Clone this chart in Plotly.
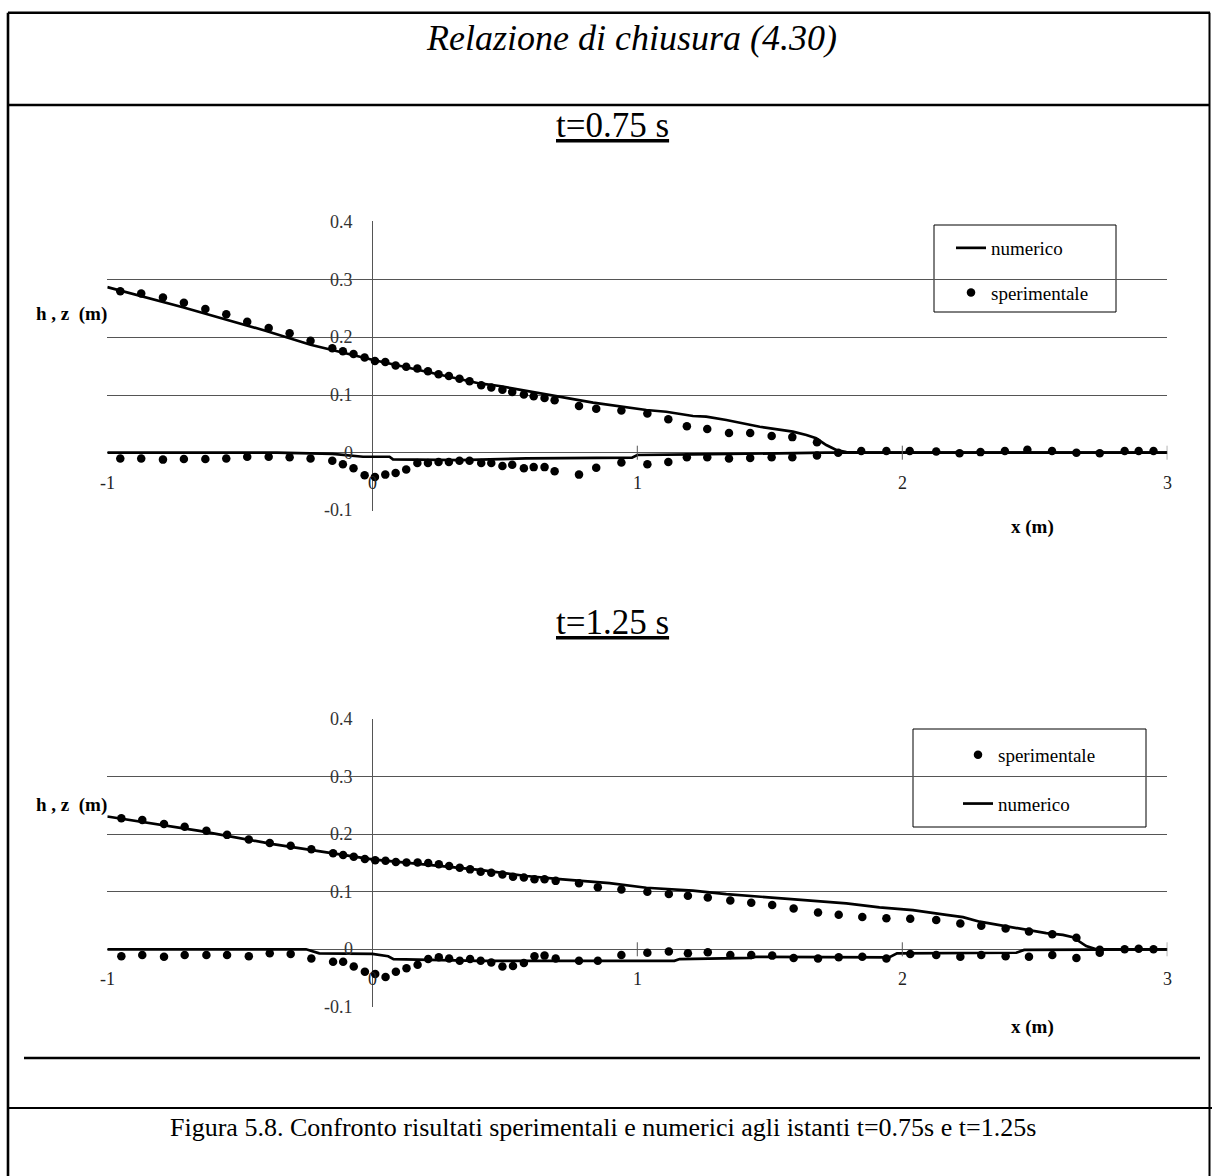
import plotly.graph_objects as go

# ---------------------------------------------------------------------------
# Data: free-surface h and bed z profiles (m) along x (m)
# ---------------------------------------------------------------------------

# t = 0.75 s, experimental water surface
x_exp_h_075 = [-0.951, -0.872, -0.790, -0.711, -0.630, -0.551, -0.472, -0.391, -0.312, -0.233,
               -0.151, -0.111, -0.071, -0.029, 0.010, 0.049, 0.088, 0.128, 0.170, 0.210,
               0.250, 0.289, 0.329, 0.367, 0.411, 0.449, 0.491, 0.528, 0.572, 0.609,
               0.650, 0.688, 0.780, 0.845, 0.940, 1.038, 1.117, 1.187, 1.264, 1.346,
               1.426, 1.507, 1.585, 1.678, 1.758, 1.845, 1.940, 2.028, 2.128, 2.216,
               2.295, 2.387, 2.472, 2.565, 2.657, 2.745, 2.839, 2.892, 2.948]
h_exp_075 = [0.280, 0.276, 0.269, 0.260, 0.249, 0.240, 0.227, 0.216, 0.207, 0.194,
             0.181, 0.176, 0.171, 0.165, 0.159, 0.157, 0.151, 0.149, 0.146, 0.141,
             0.136, 0.133, 0.128, 0.124, 0.117, 0.113, 0.109, 0.105, 0.101, 0.098,
             0.095, 0.091, 0.081, 0.076, 0.073, 0.068, 0.058, 0.046, 0.041, 0.034,
             0.034, 0.029, 0.027, 0.018, 0.000, 0.003, 0.003, 0.003, 0.002, -0.001,
             0.001, 0.003, 0.005, 0.003, 0.000, -0.001, 0.003, 0.003, 0.003]

# t = 0.75 s, experimental bed
x_exp_z_075 = [-0.951, -0.872, -0.790, -0.711, -0.630, -0.551, -0.472, -0.391, -0.312, -0.233,
               -0.151, -0.111, -0.071, -0.029, 0.010, 0.049, 0.088, 0.128, 0.170, 0.210,
               0.250, 0.289, 0.329, 0.367, 0.411, 0.449, 0.491, 0.528, 0.572, 0.609,
               0.650, 0.688, 0.780, 0.845, 0.940, 1.038, 1.117, 1.187, 1.264, 1.346,
               1.426, 1.507, 1.585, 1.678]
z_exp_075 = [-0.010, -0.010, -0.012, -0.011, -0.011, -0.010, -0.007, -0.007, -0.008, -0.010,
             -0.014, -0.020, -0.027, -0.039, -0.042, -0.038, -0.035, -0.029, -0.018, -0.018,
             -0.016, -0.016, -0.014, -0.014, -0.018, -0.018, -0.023, -0.021, -0.027, -0.025,
             -0.025, -0.032, -0.038, -0.026, -0.017, -0.020, -0.016, -0.008, -0.008, -0.010,
             -0.009, -0.008, -0.008, -0.005]

# t = 0.75 s, numerical water surface
x_num_h_075 = [-1.000, -0.715, -0.400, -0.233, 0.000, 0.405, 0.480, 0.669, 0.833, 1.034,
               1.109, 1.210, 1.260, 1.336, 1.462, 1.587, 1.638, 1.675, 1.713, 1.751,
               1.789, 1.850, 3.000]
h_num_075 = [0.287, 0.252, 0.211, 0.187, 0.161, 0.120, 0.1156, 0.100, 0.0867, 0.074,
             0.071, 0.0636, 0.0624, 0.0567, 0.045, 0.0364, 0.0307, 0.025, 0.0133, 0.0047,
             0.001, 0.000, 0.000]

# t = 0.75 s, numerical bed
x_num_z_075 = [-1.000, -0.360, -0.150, -0.035, 0.065, 0.078, 0.330, 0.580, 0.980, 1.000,
               1.210, 1.460, 1.710, 3.000]
z_num_075 = [0.000, 0.000, -0.002, -0.007, -0.007, -0.0115, -0.013, -0.010, -0.0087, -0.004,
             -0.003, -0.0017, 0.000, 0.000]

# t = 1.25 s, experimental water surface
x_exp_h_125 = [-0.947, -0.868, -0.786, -0.708, -0.626, -0.548, -0.466, -0.387, -0.308, -0.230,
               -0.148, -0.110, -0.070, -0.028, 0.011, 0.050, 0.089, 0.129, 0.171, 0.211,
               0.251, 0.290, 0.330, 0.369, 0.409, 0.449, 0.491, 0.531, 0.572, 0.612,
               0.650, 0.692, 0.780, 0.851, 0.940, 1.038, 1.119, 1.191, 1.266, 1.351,
               1.430, 1.509, 1.590, 1.682, 1.760, 1.849, 1.940, 2.030, 2.128, 2.219,
               2.298, 2.390, 2.478, 2.566, 2.657, 2.745, 2.839, 2.892, 2.948]
h_exp_125 = [0.228, 0.225, 0.218, 0.213, 0.206, 0.199, 0.191, 0.185, 0.180, 0.174,
             0.167, 0.164, 0.161, 0.157, 0.155, 0.154, 0.152, 0.151, 0.151, 0.150,
             0.148, 0.145, 0.142, 0.139, 0.135, 0.133, 0.130, 0.126, 0.125, 0.122,
             0.122, 0.119, 0.115, 0.108, 0.104, 0.100, 0.096, 0.093, 0.090, 0.085,
             0.081, 0.077, 0.071, 0.064, 0.060, 0.056, 0.054, 0.053, 0.051, 0.045,
             0.041, 0.036, 0.031, 0.026, 0.020, -0.001, 0.000, 0.001, 0.000]

# t = 1.25 s, experimental bed
x_exp_z_125 = [-0.947, -0.868, -0.786, -0.708, -0.626, -0.548, -0.466, -0.387, -0.308, -0.230,
               -0.148, -0.110, -0.070, -0.028, 0.011, 0.050, 0.089, 0.129, 0.171, 0.211,
               0.251, 0.290, 0.330, 0.369, 0.409, 0.449, 0.491, 0.531, 0.572, 0.612,
               0.650, 0.692, 0.780, 0.851, 0.940, 1.038, 1.119, 1.191, 1.266, 1.351,
               1.430, 1.509, 1.590, 1.682, 1.760, 1.849, 1.940, 2.030, 2.128, 2.219,
               2.298, 2.390, 2.478, 2.566, 2.657, 2.745]
z_exp_125 = [-0.012, -0.010, -0.013, -0.010, -0.010, -0.010, -0.012, -0.007, -0.008, -0.016,
             -0.0215, -0.0215, -0.030, -0.039, -0.043, -0.048, -0.039, -0.033, -0.027, -0.017,
             -0.014, -0.016, -0.020, -0.017, -0.020, -0.023, -0.030, -0.029, -0.024, -0.012,
             -0.011, -0.016, -0.020, -0.020, -0.010, -0.006, -0.004, -0.007, -0.005, -0.010,
             -0.010, -0.011, -0.015, -0.016, -0.014, -0.013, -0.016, -0.008, -0.010, -0.013,
             -0.010, -0.012, -0.013, -0.010, -0.015, -0.006]

# t = 1.25 s, numerical water surface
x_num_h_125 = [-1.000, -0.780, -0.652, -0.375, -0.161, 0.000, 0.405, 0.581, 0.707, 0.895,
               1.034, 1.210, 1.336, 1.537, 1.663, 1.789, 1.914, 2.040, 2.166, 2.229,
               2.292, 2.417, 2.480, 2.543, 2.606, 2.644, 2.694, 2.732, 3.000]
h_num_125 = [0.231, 0.2145, 0.206, 0.183, 0.168, 0.1565, 0.138, 0.1275, 0.122, 0.115,
             0.107, 0.102, 0.096, 0.089, 0.085, 0.080, 0.073, 0.068, 0.060, 0.056,
             0.048, 0.038, 0.0336, 0.028, 0.025, 0.021, 0.0057, 0.000, 0.000]

# t = 1.25 s, numerical bed
x_num_z_125 = [-1.000, -0.250, -0.200, 0.000, 0.060, 0.080, 0.400, 1.140, 1.160, 1.430,
               1.450, 1.950, 1.980, 2.430, 2.460, 3.000]
z_num_125 = [0.000, 0.000, -0.007, -0.008, -0.012, -0.017, -0.020, -0.020, -0.017, -0.015,
             -0.013, -0.014, -0.007, -0.006, -0.001, 0.000]

# Axis ticks
x_ticks = [-1, 0, 1, 2, 3]
y_ticks = [-0.1, 0, 0.1, 0.2, 0.3, 0.4]

# ---------------------------------------------------------------------------
# Page geometry (pixels)
# ---------------------------------------------------------------------------
W, H = 1212, 1176
SERIF = "Liberation Serif"
GRID = "#555555"


def fx(p):
    return p / W


def fy(p):
    return 1 - p / H


PLOT_X0, PLOT_X1 = 107.3, 1167.3
PAD = 0.001  # tiny range padding so the edge gridlines are drawn


def y_domain(px_top, px_bot):
    per_unit = (px_bot - px_top) / (y_ticks[-1] - y_ticks[0])
    return [fy(px_bot + PAD * per_unit), fy(px_top - PAD * per_unit)]


fig = go.Figure()

panels = [
    dict(xa="x", ya="y", legend="legend",
         num=[(x_num_h_075, h_num_075), (x_num_z_075, z_num_075)],
         exp=[(x_exp_h_075, h_exp_075), (x_exp_z_075, z_exp_075)],
         rank_num=1, rank_exp=2),
    dict(xa="x2", ya="y2", legend="legend2",
         num=[(x_num_h_125, h_num_125), (x_num_z_125, z_num_125)],
         exp=[(x_exp_h_125, h_exp_125), (x_exp_z_125, z_exp_125)],
         rank_num=2, rank_exp=1),
]

for k, p in enumerate(panels):
    for i, (xs, ys) in enumerate(p["num"]):
        fig.add_trace(go.Scatter(
            x=xs, y=ys, mode="lines", name="numerico",
            line=dict(color="black", width=2.7),
            xaxis=p["xa"], yaxis=p["ya"], legend=p["legend"],
            legendgroup=f"num{k}", legendrank=p["rank_num"],
            showlegend=(i == 0), hoverinfo="skip"))
    for i, (xs, ys) in enumerate(p["exp"]):
        fig.add_trace(go.Scatter(
            x=xs, y=ys, mode="markers", name="sperimentale",
            marker=dict(color="black", size=8.5, symbol="circle"),
            xaxis=p["xa"], yaxis=p["ya"], legend=p["legend"],
            legendgroup=f"exp{k}", legendrank=p["rank_exp"],
            showlegend=(i == 0), hoverinfo="skip"))
    # small tick marks on the x axis line
    fig.add_trace(go.Scatter(
        x=[t for t in x_ticks if t > 0], y=[0 for t in x_ticks if t > 0],
        mode="markers", marker=dict(symbol="line-ns", size=10,
                                    line=dict(color=GRID, width=1)),
        xaxis=p["xa"], yaxis=p["ya"], showlegend=False, hoverinfo="skip"))

axis_x = dict(range=[x_ticks[0], x_ticks[-1]], showgrid=False, zeroline=True,
              zerolinecolor=GRID, zerolinewidth=1, showticklabels=False,
              ticks="", showline=False, fixedrange=True)
axis_y = dict(range=[y_ticks[0] - PAD, y_ticks[-1] + PAD], tickvals=y_ticks,
              showgrid=True, gridcolor=GRID, gridwidth=1, zeroline=True,
              zerolinecolor=GRID, zerolinewidth=1, showticklabels=False,
              ticks="", showline=False, fixedrange=True)

top_px = (221.9, 510.4)
bot_px = (719.3, 1006.8)

fig.update_layout(
    width=W, height=H, margin=dict(l=0, r=0, t=0, b=0),
    paper_bgcolor="white", plot_bgcolor="rgba(0,0,0,0)",
    font=dict(family=SERIF, color="black"),
    xaxis=dict(axis_x, domain=[fx(PLOT_X0), fx(PLOT_X1)], anchor="y"),
    yaxis=dict(axis_y, domain=y_domain(*top_px), anchor="x"),
    xaxis2=dict(axis_x, domain=[fx(PLOT_X0), fx(PLOT_X1)], anchor="y2"),
    yaxis2=dict(axis_y, domain=y_domain(*bot_px), anchor="x2"),
    legend=dict(x=fx(951), y=fy(229), xanchor="left", yanchor="top",
                bgcolor="rgba(0,0,0,0)", borderwidth=0,
                font=dict(family=SERIF, size=19), tracegroupgap=17,
                traceorder="grouped"),
    legend2=dict(x=fx(958), y=fy(736), xanchor="left", yanchor="top",
                 bgcolor="rgba(0,0,0,0)", borderwidth=0,
                 font=dict(family=SERIF, size=19), tracegroupgap=21,
                 traceorder="grouped"),
    showlegend=True,
)

annotations = []
shapes = []

# Tick labels placed along the axes crossing at the origin
for xa, ya in (("x", "y"), ("x2", "y2")):
    for t in y_ticks:
        annotations.append(dict(
            x=0, y=t, xref=xa, yref=ya, text=f"{t:g}", showarrow=False,
            xanchor="right", yanchor="middle", xshift=-17,
            font=dict(family=SERIF, size=18, color="#333333")))
    for t in x_ticks:
        annotations.append(dict(
            x=t, y=0, xref=xa, yref=ya, text=f"{t:g}", showarrow=False,
            xanchor="center", yanchor="middle", yshift=-30,
            font=dict(family=SERIF, size=18, color="#222222")))


def text(px, py, s, size, anchor="center", **font):
    annotations.append(dict(
        x=fx(px), y=fy(py), xref="paper", yref="paper", text=s, showarrow=False,
        xanchor=anchor, yanchor="middle",
        font=dict(family=SERIF, size=size, color="black", **font)))


text(631, 38, "<i>Relazione di chiusura (4.30)</i>", 36)
text(612, 125, "<u>t=0.75 s</u>", 35)
text(612, 622, "<u>t=1.25 s</u>", 35)
text(168, 1127, "Figura 5.8. Confronto risultati sperimentali e numerici agli istanti "
                "t=0.75s e t=1.25s", 26, anchor="left")
for py in (314, 805):
    text(34, py, "<b>h , z &nbsp;(m)</b>", 19, anchor="left")
for py in (527, 1027):
    text(1032, py, "<b>x (m)</b>", 19)


def hline(x0, x1, py, w):
    shapes.append(dict(type="line", xref="paper", yref="paper",
                       x0=fx(x0), x1=fx(x1), y0=fy(py), y1=fy(py),
                       line=dict(color="black", width=w)))


def vline(px, y0, y1, w):
    shapes.append(dict(type="line", xref="paper", yref="paper",
                       x0=fx(px), x1=fx(px), y0=fy(y0), y1=fy(y1),
                       line=dict(color="black", width=w)))


# Page frame
hline(8, 1210, 12.7, 2.6)
vline(8, 12.7, 1176, 2.6)
vline(1209.5, 12.7, 1176, 2)
hline(8, 1210, 105, 2.6)
hline(24, 1200, 1058, 2.6)
hline(8, 1212, 1108, 2)

# Legend frames
for x0, y0, x1, y1 in ((934, 225, 1116, 312), (913, 729, 1146, 827)):
    shapes.append(dict(type="rect", xref="paper", yref="paper",
                       x0=fx(x0), x1=fx(x1), y0=fy(y1), y1=fy(y0),
                       line=dict(color="black", width=1), fillcolor="white",
                       layer="below"))

fig.update_layout(annotations=annotations, shapes=shapes)

fig.write_html("out.html")
